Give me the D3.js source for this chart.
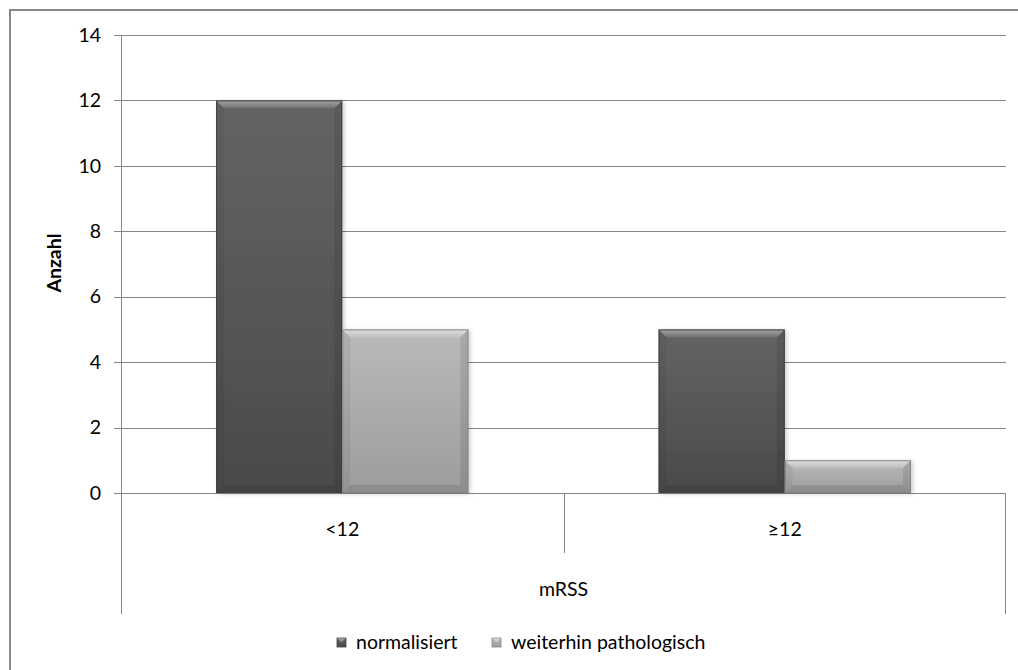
<!DOCTYPE html>
<html><head><meta charset="utf-8">
<script src="https://cdn.jsdelivr.net/npm/d3@7"></script>
<style>body{margin:0;background:#fff}svg{display:block}text{font-family:Lato,"Open Sans",sans-serif;fill:#000}</style>
</head><body>
<svg id="c" width="1018" height="670"></svg>
<script>
const categories = ["<12", "≥12"];
const seriesNames = ["normalisiert", "weiterhin pathologisch"];
const normalisiert = [12, 5];
const weiterhinPathologisch = [5, 1];
const yTicks = [0, 2, 4, 6, 8, 10, 12, 14];
const xTitle = "mRSS";
const yTitle = "Anzahl";

const FS = "19.5px";
const svg = d3.select("#c");
const L = 121, R = 1006, T = 35, B = 493;
const grid = "#868686";

// outer frame (only left and top visible)
svg.append("path").attr("d", "M10,670 L10,10 L1018,10").attr("fill", "none").attr("stroke", "#878787").attr("stroke-width", 2);

const y = d3.scaleLinear().domain([0, 14]).range([B, T]);
const x0 = d3.scaleBand().domain(categories).range([L, R]).paddingInner(0).paddingOuter(0);
const x1 = d3.scaleBand().domain(seriesNames).range([0, x0.bandwidth()]).paddingInner(0).paddingOuter(0.754);

// grid lines
svg.append("g").selectAll("line").data(yTicks).join("line")
  .attr("x1", L - 7).attr("x2", R).attr("y1", d => Math.round(y(d)) + 0.5).attr("y2", d => Math.round(y(d)) + 0.5)
  .attr("stroke", grid).attr("stroke-width", 1);

// y axis via d3 for labels
const yAxis = svg.append("g").attr("transform", `translate(${L},0)`).call(d3.axisLeft(y).tickValues(yTicks).tickSize(0).tickPadding(20));
yAxis.select(".domain").remove();
yAxis.selectAll("text").style("font-size", FS).attr("font-family", "Lato").attr("fill", "#000");

// vertical axis lines
svg.append("line").attr("x1", L + 0.5).attr("x2", L + 0.5).attr("y1", T).attr("y2", 614).attr("stroke", grid);
svg.append("line").attr("x1", R - 0.5).attr("x2", R - 0.5).attr("y1", B).attr("y2", 614).attr("stroke", grid);
svg.append("line").attr("x1", Math.round(x0(categories[1])) + 0.5).attr("x2", Math.round(x0(categories[1])) + 0.5).attr("y1", B).attr("y2", 553).attr("stroke", grid);

// gradients
const defs = svg.append("defs");
const colors = [["#646464", "#4a4a4a", "#404040"], ["#bababa", "#9c9c9c", "#858585"]];
colors.forEach((c, i) => {
  const g = defs.append("linearGradient").attr("id", "g" + i).attr("x1", 0).attr("x2", 0).attr("y1", 0).attr("y2", 1);
  g.append("stop").attr("offset", "0%").attr("stop-color", c[0]);
  g.append("stop").attr("offset", "100%").attr("stop-color", c[1]);
});
const hl = defs.append("linearGradient").attr("id", "hl").attr("x1", 0).attr("x2", 0).attr("y1", 0).attr("y2", 1);
hl.append("stop").attr("offset", "0%").attr("stop-color", "#fff").attr("stop-opacity", 0.55);
hl.append("stop").attr("offset", "100%").attr("stop-color", "#fff").attr("stop-opacity", 0.1);
const sh = defs.append("filter").attr("id", "sh").attr("x", "-10%").attr("y", "-10%").attr("width", "130%").attr("height", "130%");
sh.append("feGaussianBlur").attr("in", "SourceAlpha").attr("stdDeviation", 2);
sh.append("feOffset").attr("dx", 2).attr("dy", 1).attr("result", "b");
sh.append("feComponentTransfer").append("feFuncA").attr("type", "linear").attr("slope", 0.2);
const m = sh.append("feMerge"); m.append("feMergeNode"); m.append("feMergeNode").attr("in", "SourceGraphic");

const series = [normalisiert, weiterhinPathologisch];
const data = [];
categories.forEach((cat, ci) => series.forEach((s, si) => data.push({cat, name: seriesNames[si], si, v: s[ci]})));

const bars = svg.append("g").selectAll("g").data(data).join("g");
bars.each(function(d) {
  const g = d3.select(this);
  const bx = x0(d.cat) + x1(d.name), bw = x1.bandwidth();
  const by = y(d.v), bh = B - by;
  const e = Math.min(8, bh / 3);
  g.append("rect").attr("x", bx).attr("y", by).attr("width", bw).attr("height", bh)
    .attr("fill", `url(#g${d.si})`).attr("filter", "url(#sh)");
  // bevel: top light
  g.append("path").attr("d", `M${bx},${by} L${bx + bw},${by} L${bx + bw - e},${by + e} L${bx + e},${by + e} Z`)
    .attr("fill", "url(#hl)").attr("opacity", d.si === 0 ? 0.8 : 1);
  // left/right dark
  g.append("path").attr("d", `M${bx},${by} L${bx + e},${by + e} L${bx + e},${B - e} L${bx},${B} Z`).attr("fill", "#000").attr("opacity", 0.05);
  g.append("path").attr("d", `M${bx + bw},${by} L${bx + bw - e},${by + e} L${bx + bw - e},${B - e} L${bx + bw},${B} Z`).attr("fill", "#000").attr("opacity", 0.09);
  g.append("path").attr("d", `M${bx},${B} L${bx + e},${B - e} L${bx + bw - e},${B - e} L${bx + bw},${B} Z`).attr("fill", "#000").attr("opacity", 0.1);
  g.append("rect").attr("x", bx + 0.5).attr("y", by + 0.5).attr("width", bw - 1).attr("height", bh - 1)
    .attr("fill", "none").attr("stroke", colors[d.si][2]).attr("stroke-width", 1);
});

// category labels
svg.append("g").selectAll("text").data(categories).join("text")
  .attr("x", d => x0(d) + x0.bandwidth() / 2).attr("y", 536).attr("text-anchor", "middle")
  .style("font-size", FS).text(d => d);

svg.append("text").attr("x", (L + R) / 2).attr("y", 596).attr("text-anchor", "middle").style("font-size", FS).text(xTitle);

svg.append("text").attr("transform", "translate(61,263) rotate(-90)").attr("text-anchor", "middle")
  .style("font-size", FS).style("font-weight", "bold").text(yTitle);

// legend
const legX = [337, 492];
const lg = svg.append("g").selectAll("g").data(seriesNames).join("g").attr("transform", (d, i) => `translate(${legX[i]},638)`);
lg.append("rect").attr("width", 9).attr("height", 9).attr("fill", (d, i) => `url(#g${i})`).attr("stroke", (d, i) => colors[i][2]).attr("stroke-width", 0.8);
lg.append("path").attr("d", "M0,0 L9,0 L4.5,4.5 Z").attr("fill", "#fff").attr("opacity", 0.35);
lg.append("text").attr("x", 19).attr("y", 11).style("font-size", FS).text(d => d);
</script>
</body></html>
